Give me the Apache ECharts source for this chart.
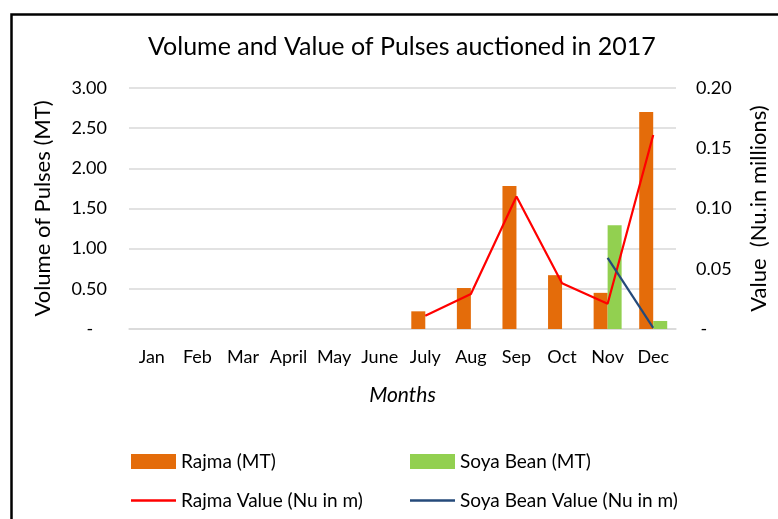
<!DOCTYPE html>
<html>
<head>
<meta charset="utf-8">
<script src="https://cdn.jsdelivr.net/npm/echarts@6/dist/echarts.min.js"></script>
<style>html,body{margin:0;padding:0;background:#fff}#c{width:778px;height:519px}</style>
</head>
<body>
<div id="c"></div>
<script>
var months = ['Jan','Feb','Mar','April','May','June','July','Aug','Sep','Oct','Nov','Dec'];
var rajmaMT = [null,null,null,null,null,null,0.22,0.51,1.78,0.67,0.45,2.70];
var soyaMT = [null,null,null,null,null,null,null,null,null,null,1.29,0.10];
var rajmaValue = [null,null,null,null,null,null,0.011,0.029,0.110,0.038,0.021,0.161];
var soyaValue = [null,null,null,null,null,null,null,null,null,null,0.059,0.001];
var leftTicks = [0,0.5,1,1.5,2,2.5,3];
var rightTicks = [0,0.05,0.10,0.15,0.20];

var FONT = 'Lato';
var legTxt = {fontFamily: FONT, fontSize: 19, color: '#000'};
var lineIcon = 'path://M0,0 L45,0 L45,2.4 L0,2.4 Z';
function leg(name, left, top, isLine) {
  return {
    left: left, top: top, itemWidth: 45, itemHeight: isLine ? 2.4 : 15,
    data: [isLine ? {name: name, icon: lineIcon} : {name: name, icon: 'rect'}],
    textStyle: legTxt
  };
}
var chart = echarts.init(document.getElementById('c'));
chart.setOption({
  animation: false,
  textStyle: {fontFamily: FONT},
  graphic: [{
    type: 'rect', left: 9, top: 12, silent: true,
    shape: {x: 0, y: 0, width: 800, height: 600},
    style: {fill: 'none', stroke: '#000', lineWidth: 2.5}
  }],
  title: {
    text: 'Volume and Value of Pulses auctioned in 2017',
    left: 143, top: 29,
    textStyle: {fontFamily: FONT, fontSize: 25, fontWeight: 'normal', color: '#000'}
  },
  legend: [
    leg('Rajma (MT)', 126, 447, false),
    leg('Soya Bean (MT)', 405, 447, false),
    leg('Rajma Value (Nu in m)', 126, 486, true),
    leg('Soya Bean Value (Nu in m)', 405, 486, true)
  ],
  grid: {left: 129, right: 100, top: 88, bottom: 190, containLabel: false},
  xAxis: {
    type: 'category', data: months, boundaryGap: true,
    name: 'Months', nameLocation: 'middle', nameGap: 56,
    nameTextStyle: {fontFamily: FONT, fontSize: 21, fontStyle: 'italic', color: '#000'},
    axisLine: {lineStyle: {color: '#d9d9d9', width: 1.5}},
    axisTick: {show: false},
    axisLabel: {fontFamily: FONT, fontSize: 18, color: '#000', margin: 19, interval: 0}
  },
  yAxis: [{
    type: 'value', min: leftTicks[0], max: leftTicks[leftTicks.length-1], interval: 0.5,
    name: 'Volume of Pulses (MT)', nameLocation: 'middle', nameGap: 75, nameRotate: 90,
    nameTextStyle: {fontFamily: FONT, fontSize: 22, color: '#000'},
    axisLine: {show: false}, axisTick: {show: false},
    splitLine: {lineStyle: {color: '#d9d9d9', width: 1.5}},
    axisLabel: {fontFamily: FONT, fontSize: 18, color: '#000', margin: 22,
      formatter: function(v){ return v === 0 ? '-   ' : v.toFixed(2); }}
  }, {
    type: 'value', min: rightTicks[0], max: rightTicks[rightTicks.length-1], interval: 0.05,
    position: 'right',
    name: 'Value  (Nu.in millions)', nameLocation: 'middle', nameGap: 72, nameRotate: 90,
    nameTextStyle: {fontFamily: FONT, fontSize: 22, color: '#000'},
    axisLine: {show: false}, axisTick: {show: false}, splitLine: {show: false},
    axisLabel: {fontFamily: FONT, fontSize: 18, color: '#000', margin: 20,
      formatter: function(v){ return v === 0 ? ' -' : v.toFixed(2); }}
  }],
  series: [{
    name: 'Rajma (MT)', type: 'bar', data: rajmaMT, barWidth: 14, barGap: '0%',
    itemStyle: {color: '#E46C0A'}
  }, {
    name: 'Soya Bean (MT)', type: 'bar', data: soyaMT, barWidth: 14, barGap: '0%',
    itemStyle: {color: '#92D050'}
  }, {
    name: 'Rajma Value (Nu in m)', type: 'line', yAxisIndex: 1, data: rajmaValue,
    symbol: 'none', lineStyle: {color: '#FF0000', width: 2.2}, itemStyle: {color: '#FF0000'}
  }, {
    name: 'Soya Bean Value (Nu in m)', type: 'line', yAxisIndex: 1, data: soyaValue,
    symbol: 'none', lineStyle: {color: '#254A7A', width: 2.2}, itemStyle: {color: '#254A7A'}
  }]
});
</script>
</body>
</html>
